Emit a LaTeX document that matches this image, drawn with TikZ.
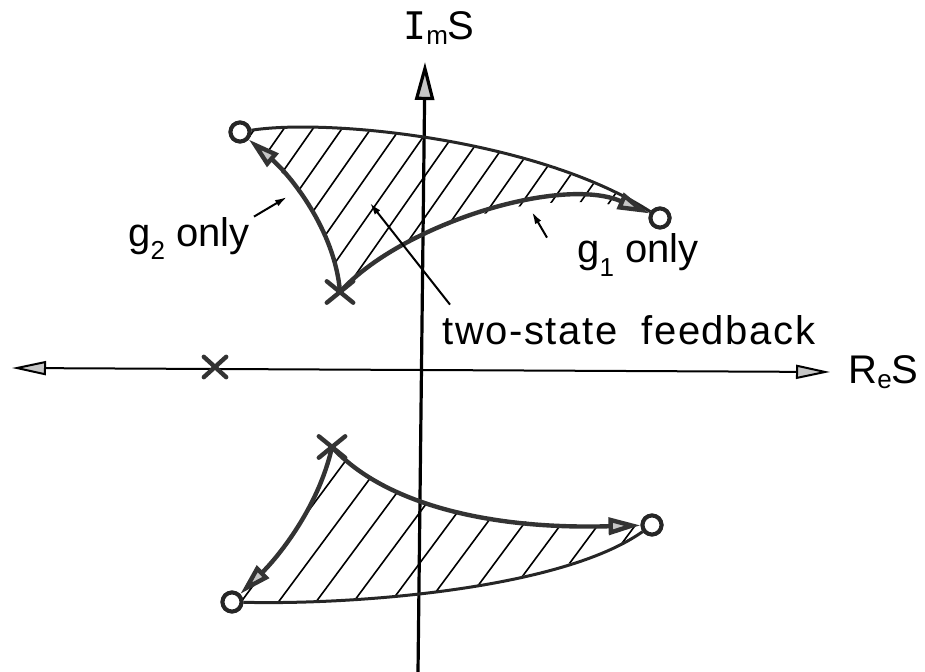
\documentclass[tikz,border=0pt]{standalone}
\usepackage{fontspec}
\setmainfont{Liberation Sans}
\newfontfamily\slabfont{DejaVu Sans Mono}
\newfontfamily\widefont[LetterSpace=4]{Liberation Sans}
\usetikzlibrary{arrows.meta,shapes.misc}
\newcommand{\lowsub}[2][2.5pt]{\raisebox{-#1}{\fontsize{13}{13}\selectfont #2}}

\begin{document}
\begin{tikzpicture}[x=0.5pt, y=-0.5pt,
    zero/.style={draw=black!85, circle, line width=2pt, minimum size=9.5pt, inner sep=0pt, fill=white},
    pole/.style={draw=black!80, cross out, line width=2.2pt, line cap=round, minimum width=11pt, minimum height=8.5pt, inner sep=0pt},
    branch/.style={draw=black!80, line width=2.2pt, line cap=round, -{Triangle[length=16pt, width=8.5pt, fill=gray!45]}},
    bound/.style={draw=black!85, line width=1.5pt},
    hatch/.style={line width=0.8pt},
    haxis/.style={line width=1pt, {Triangle[length=17pt, width=7pt, fill=gray!45]}-{Triangle[length=17pt, width=7pt, fill=gray!45]}},
    vaxis/.style={line width=1.6pt, -{Triangle[length=19pt, width=9.5pt, fill=gray!45]}},
    pointer/.style={line width=1pt, -{Latex[length=6pt, width=3.5pt]}},
    lbl/.style={inner sep=0pt, font=\fontsize{20}{24}\selectfont}
]
\useasboundingbox (0,0) rectangle (925,672);

% axes
\coordinate (west) at (12,368);
\coordinate (east) at (830,372);
\coordinate (south) at (418,672);
\coordinate (north) at (425,62);
\draw[haxis] (west) -- (east);
\draw[vaxis] (south) -- (north);

% poles and zeros
\node[zero] (z1) at (240,132) {};
\node[zero] (z2) at (660,218) {};
\node[zero] (z3) at (232,602) {};
\node[zero] (z4) at (652,525) {};
\node[pole] (p1) at (340,292) {};
\node[pole] (p2) at (332,447) {};
\node[pole, minimum width=9pt, minimum height=8pt] (p0) at (215,367) {};

% hatched two-state regions
\begin{scope}
\clip (z1.center) .. controls (330,118) and (540,140) .. (z2.center)
    .. controls (560,175) and (400,225) .. (p1.center)
    .. controls (335,230) and (290,175) .. cycle;
\foreach \k in {0,...,19}
    \draw[hatch] (85+29*\k,330) -- ++(154,-220);
\end{scope}
\begin{scope}
\clip (p2.center) .. controls (380,500) and (480,530) .. (z4.center)
    .. controls (560,590) and (350,605) .. (z3.center)
    .. controls (275,560) and (318,510) .. cycle;
\foreach \k in {0,...,14}
    \draw[hatch] (197.5+37.5*\k,610) -- ++(126,-170);
\end{scope}

% loci
\draw[bound] (z1) .. controls (330,118) and (540,140) .. (z2);
\draw[branch] (p1.center) .. controls (335,230) and (290,175) .. (z1);
\draw[branch] (p1.center) .. controls (400,225) and (560,175) .. (z2);
\draw[bound] (z3) .. controls (350,605) and (560,590) .. (z4);
\draw[branch] (p2.center) .. controls (318,510) and (275,560) .. (z3);
\draw[branch] (p2.center) .. controls (380,500) and (480,530) .. (z4);
\node[zero] at (z1) {};
\node[zero] at (z2) {};
\node[zero] at (z3) {};
\node[zero] at (z4) {};

% labels
\node[lbl, anchor=base west] (ims) at (403,40) {{\slabfont\fontsize{19}{19}\selectfont I}\lowsub{m}S};
\node[lbl, anchor=base west] (res) at (848,384) {R\lowsub{e}S};
\node[lbl, anchor=base west] (g2lbl) at (128,247) {g\lowsub[6.5pt]{2} only};
\node[lbl, anchor=base west] (g1lbl) at (577,263) {g\lowsub[7pt]{1} only};
\node[lbl, anchor=base west] (tsf) at (442,345) {\widefont two-state\hspace{0.6em}feedback};

\coordinate (g2tip) at (287,197);
\coordinate (g1tip) at (532,212);
\coordinate (tsftip) at (370,203);
\draw[pointer] ([shift={(4,-1)}]g2lbl.north east) -- (g2tip);
\draw[pointer] ([shift={(-30,4)}]g1lbl.north west) -- (g1tip);
\draw[pointer] ([shift={(8,-11)}]tsf.north west) -- (tsftip);

\end{tikzpicture}
\end{document}
